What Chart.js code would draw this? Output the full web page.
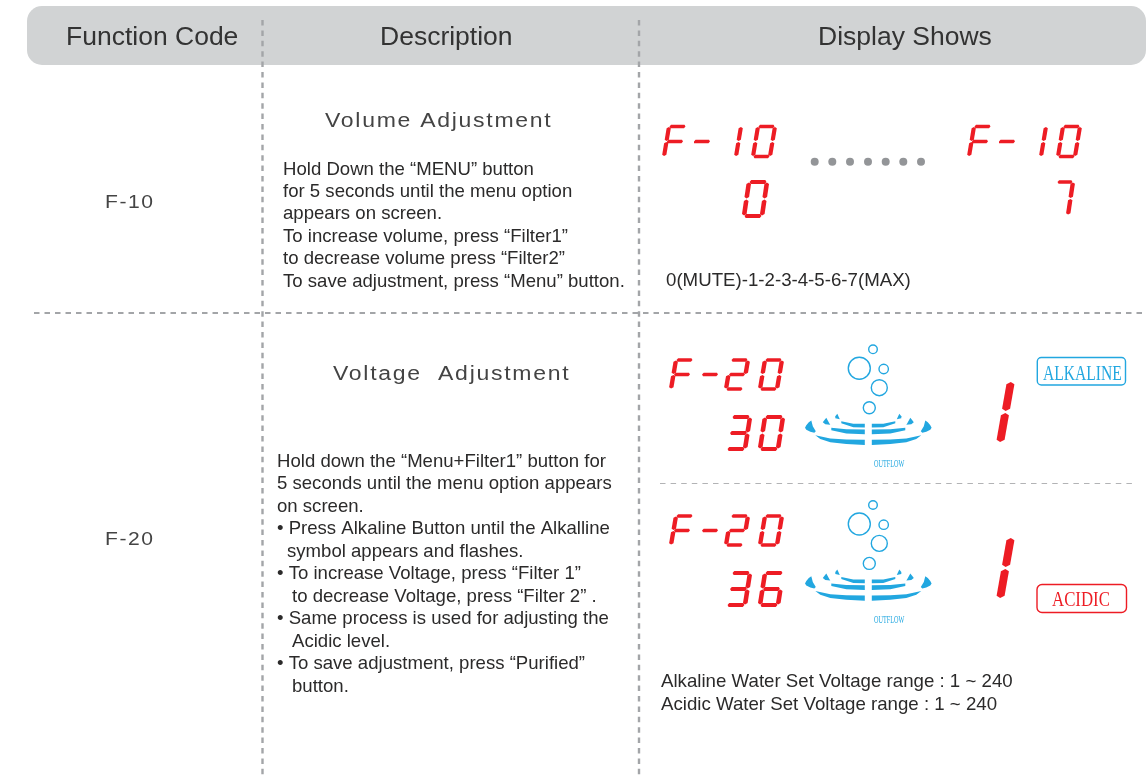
<!DOCTYPE html>
<html>
<head>
<meta charset="utf-8">
<title>Function codes</title>
<script src="https://cdn.jsdelivr.net/npm/chart.js@4"></script>
<style>
html, body { margin: 0; padding: 0; background: #fff; }
canvas { display: block; }
</style>
</head>
<body>
<canvas id="sheet" width="1146" height="779"></canvas>
<script>
// table content
const columnHeaders = ['Function Code', 'Description', 'Display Shows'];
const functionCodes = ['F-10', 'F-20'];
const sectionTitles = ['Volume Adjustment', 'Voltage  Adjustment'];
const volumeSteps = [
    'Hold Down the “MENU” button',
    'for 5 seconds until the menu option',
    'appears on screen.',
    'To increase volume, press “Filter1”',
    'to decrease volume press “Filter2”',
    'To save adjustment, press “Menu” button.'
];
const voltageSteps = [
    'Hold down the “Menu+Filter1” button for',
    '5 seconds until the menu option appears',
    'on screen.',
    '• Press Alkaline Button until the Alkalline',
    'symbol appears and flashes.',
    '• To increase Voltage, press “Filter 1”',
    'to decrease Voltage, press “Filter 2” .',
    '• Same process is used for adjusting the',
    'Acidic level.',
    '• To save adjustment, press “Purified”',
    'button.'
];
const volumeRange = '0(MUTE)-1-2-3-4-5-6-7(MAX)';
const voltageRanges = ['Alkaline Water Set Voltage range : 1 ~ 240', 'Acidic Water Set Voltage range : 1 ~ 240'];
const modeLabels = ['ALKALINE', 'ACIDIC'];
const outflowLabel = 'OUTFLOW';
const ledReadings = ['F-10', '0', 'F-10', '7', 'F-20', '30', '1', 'F-20', '36', '1'];

// where things go
const voltageIndents = [277, 277, 277, 277, 287, 277, 292, 277, 292, 277, 292];
const ledPlaces = [
    { cells: [664, 691, 719, 753], y: 126.5, w: 17, h: 30, slant: 5, t: 4.2 },
    { cells: [744], y: 182, w: 18, h: 34, slant: 5, t: 4.6 },
    { cells: [969, 996, 1024, 1058], y: 126.5, w: 17, h: 30, slant: 5, t: 4.2 },
    { cells: [1052], y: 182, w: 16, h: 33, slant: 5, t: 4.4 },
    { cells: [671, 699, 726, 760], y: 360, w: 17, h: 29, slant: 5, t: 4.4 },
    { cells: [727, 760], y: 417, w: 18, h: 32, slant: 5, t: 4.6 },
    { cells: [1000], y: 381, w: 0, h: 62, slant: 11, t: 8 },
    { cells: [671, 699, 726, 760], y: 516, w: 17, h: 29, slant: 5, t: 4.4 },
    { cells: [727, 760], y: 573, w: 18, h: 32, slant: 5, t: 4.6 },
    { cells: [1000], y: 537, w: 0, h: 62, slant: 11, t: 8 }
];
const ellipsisX = [814.7, 832.3, 850, 868, 885.7, 903.3, 921];
const iconOrigins = [{ x: 868.3, y: 428.3 }, { x: 868.3, y: 584 }];
const bubbleDx = [-9, 4.7, 15.4, 11, 1];
const bubbleDy = [-60, -79, -59.3, -40.6, -20.6];
const bubbleRadius = [11, 4.3, 4.7, 8, 6];
// left half of the water ripple, offset from icon origin
const rippleHalves = [
    [[-53, 7], [-38, 10.3], [-22, 11.3], [-3.5, 11.5], [-3.5, 16.7], [-22, 15.7], [-38, 14], [-48, 10.7]],
    [[-37, -0.5], [-22, 1], [-3.5, 1.3], [-3.5, 6], [-22, 5.3], [-37, 2]],
    [[-27, -7], [-15, -4.5], [-3.5, -4.5], [-3.5, -0.8], [-15, -1], [-27, -5]],
    [[-57, -7.7], [-55.5, -2], [-52.5, 3], [-54, 4.5], [-58, 3.5], [-62, 1.5], [-63.3, -0.5], [-62, -3], [-59.5, -6]],
    [[-42, -10.5], [-39, -5], [-38, -3.5], [-43, -4], [-45.5, -6], [-44, -8]],
    [[-31, -14.5], [-28.5, -9], [-33, -10], [-33, -12]]
];

const BLUE = '#22a7e0';
const RED = '#ed1c24';
const TEXT = '#2b2a2a';

// segments lit for each character on the display
const ledSegments = {
    'F': 'afeg', '-': 'g', '0': 'abcdef', '1': 'bc', '2': 'abged',
    '3': 'abgcd', '6': 'acdefg', '7': 'abc'
};

function segmentPolygon(seg, x, y, w, h, slant, t) {
    const gap = t * 0.12;
    const tip = t * 0.3;
    const m = h / 2;
    const flat = t * 0.82;
    const hx = (px, v) => ({ x: px + slant * (1 - v / h), y: y + v });
    const across = (v) => [
        hx(x + gap, v), hx(x + gap + tip, v - flat / 2), hx(x + w - gap - tip, v - flat / 2),
        hx(x + w - gap, v), hx(x + w - gap - tip, v + flat / 2), hx(x + gap + tip, v + flat / 2)
    ];
    const down = (px, v0, v1) => [
        hx(px, v0 + gap), hx(px + t / 2, v0 + gap + tip), hx(px + t / 2, v1 - gap - tip),
        hx(px, v1 - gap), hx(px - t / 2, v1 - gap - tip), hx(px - t / 2, v0 + gap + tip)
    ];
    if (seg === 'a') return across(0);
    if (seg === 'g') return across(m);
    if (seg === 'd') return across(h);
    if (seg === 'f') return down(x, 0, m);
    if (seg === 'e') return down(x, m, h);
    if (seg === 'b') return down(x + w, 0, m);
    return down(x + w, m, h);
}

function shapeDataset(points, color) {
    return {
        type: 'line',
        data: points.concat([points[0]]),
        fill: 'shape',
        backgroundColor: color,
        borderWidth: 0,
        pointRadius: 0,
        tension: 0
    };
}

function dashedLine(x0, y0, x1, y1, color, width, dash) {
    return {
        type: 'line',
        data: [{ x: x0, y: y0 }, { x: x1, y: y1 }],
        borderColor: color,
        borderWidth: width,
        borderDash: dash,
        pointRadius: 0,
        fill: false
    };
}

function buildDatasets() {
    const sets = [
        dashedLine(262.5, 20, 262.5, 779, '#a3a5a8', 2.4, [5.5, 4.9]),
        dashedLine(639, 20, 639, 779, '#a3a5a8', 2.4, [5.5, 4.9]),
        dashedLine(34, 313, 1146, 313, '#a3a5a8', 2.2, [5.5, 5]),
        dashedLine(660, 483.5, 1136, 483.5, '#b2b3b5', 1.2, [5.5, 5.1])
    ];
    ledReadings.forEach((reading, i) => {
        const place = ledPlaces[i];
        reading.split('').forEach((ch, c) => {
            ledSegments[ch].split('').forEach(seg => {
                sets.push(shapeDataset(
                    segmentPolygon(seg, place.cells[c], place.y, place.w, place.h, place.slant, place.t), RED));
            });
        });
    });
    sets.push({
        data: ellipsisX.map(x => ({ x: x, y: 161.7 })),
        pointRadius: 4,
        pointBackgroundColor: '#939598',
        pointBorderWidth: 0
    });
    iconOrigins.forEach(o => {
        sets.push({
            data: bubbleDx.map((dx, i) => ({ x: o.x + dx, y: o.y + bubbleDy[i] })),
            pointRadius: bubbleRadius,
            pointBackgroundColor: 'rgba(0,0,0,0)',
            pointBorderColor: BLUE,
            pointBorderWidth: 1.4
        });
        rippleHalves.forEach(half => {
            sets.push(shapeDataset(half.map(p => ({ x: o.x + p[0], y: o.y + p[1] })), BLUE));
            sets.push(shapeDataset(half.map(p => ({ x: o.x - p[0], y: o.y + p[1] })), BLUE));
        });
    });
    return sets;
}

function putText(ctx, text, x, y, font, color, spacing, squeeze) {
    ctx.save();
    ctx.font = font;
    ctx.fillStyle = color;
    ctx.letterSpacing = (spacing || 0) + 'px';
    ctx.textBaseline = 'alphabetic';
    ctx.translate(x, y);
    ctx.scale(squeeze || 1, 1);
    ctx.fillText(text, 0, 0);
    ctx.restore();
}

function roundBox(ctx, sx, sy, x0, y0, x1, y1, r) {
    ctx.beginPath();
    ctx.roundRect(sx.getPixelForValue(x0), sy.getPixelForValue(y0), x1 - x0, y1 - y0, r);
}

// header band goes under the dashed rules
const headerBand = {
    id: 'headerBand',
    beforeDatasetsDraw(chart) {
        const ctx = chart.ctx;
        ctx.save();
        ctx.fillStyle = '#d1d3d4';
        roundBox(ctx, chart.scales.x, chart.scales.y, 27, 6, 1146, 65, 15);
        ctx.fill();
        ctx.restore();
    }
};

const tableText = {
    id: 'tableText',
    afterDatasetsDraw(chart) {
        const ctx = chart.ctx;
        const sx = chart.scales.x;
        const sy = chart.scales.y;
        const sans = '"Liberation Sans", Arial, sans-serif';
        const serif = '"Liberation Serif", serif';
        const at = (t, x, y, font, color, sp, sq) =>
            putText(ctx, t, sx.getPixelForValue(x), sy.getPixelForValue(y), font, color, sp, sq);

        [66, 380, 818].forEach((x, i) => at(columnHeaders[i], x, 45, '26.5px ' + sans, '#333'));
        at(functionCodes[0], 105, 208, '19px ' + sans, '#444', 1.4, 1.11);
        at(functionCodes[1], 105, 545, '19px ' + sans, '#444', 1.4, 1.11);
        at(sectionTitles[0], 325, 127, '20px ' + sans, '#444', 1.5, 1.15);
        at(sectionTitles[1], 333, 380, '20px ' + sans, '#444', 1.5, 1.15);

        volumeSteps.forEach((line, i) => at(line, 283, 174.5 + i * 22.4, '17.8px ' + sans, TEXT, 0, 1.045));
        voltageSteps.forEach((line, i) => at(line, voltageIndents[i], 466.7 + i * 22.5, '17.8px ' + sans, TEXT, 0, 1.045));
        at(volumeRange, 666, 286, '17.8px ' + sans, TEXT, 0, 1.05);
        at(voltageRanges[0], 661, 687, '17.8px ' + sans, TEXT, 0, 1.05);
        at(voltageRanges[1], 661, 709.5, '17.8px ' + sans, TEXT, 0, 1.05);

        ctx.save();
        ctx.lineWidth = 1.4;
        ctx.strokeStyle = BLUE;
        roundBox(ctx, sx, sy, 1037.3, 357.5, 1125.5, 385, 4);
        ctx.stroke();
        ctx.strokeStyle = RED;
        roundBox(ctx, sx, sy, 1037, 584.5, 1126.5, 612.5, 5);
        ctx.stroke();
        ctx.restore();
        at(modeLabels[0], 1043, 380, '20px ' + serif, BLUE, 0, 0.78);
        at(modeLabels[1], 1052, 606, '20px ' + serif, RED, 0, 0.84);
        iconOrigins.forEach(o => at(outflowLabel, 874, o.y + 38.5, '10px ' + serif, BLUE, 0, 0.62));
    }
};

new Chart(document.getElementById('sheet'), {
    type: 'scatter',
    data: { datasets: buildDatasets() },
    options: {
        responsive: false,
        animation: false,
        layout: { padding: 0, autoPadding: false },
        plugins: { legend: { display: false }, tooltip: { enabled: false } },
        scales: {
            x: { type: 'linear', min: 0, max: 1146, display: false },
            y: { type: 'linear', min: 0, max: 779, reverse: true, display: false }
        }
    },
    plugins: [headerBand, tableText]
});
</script>
</body>
</html>
